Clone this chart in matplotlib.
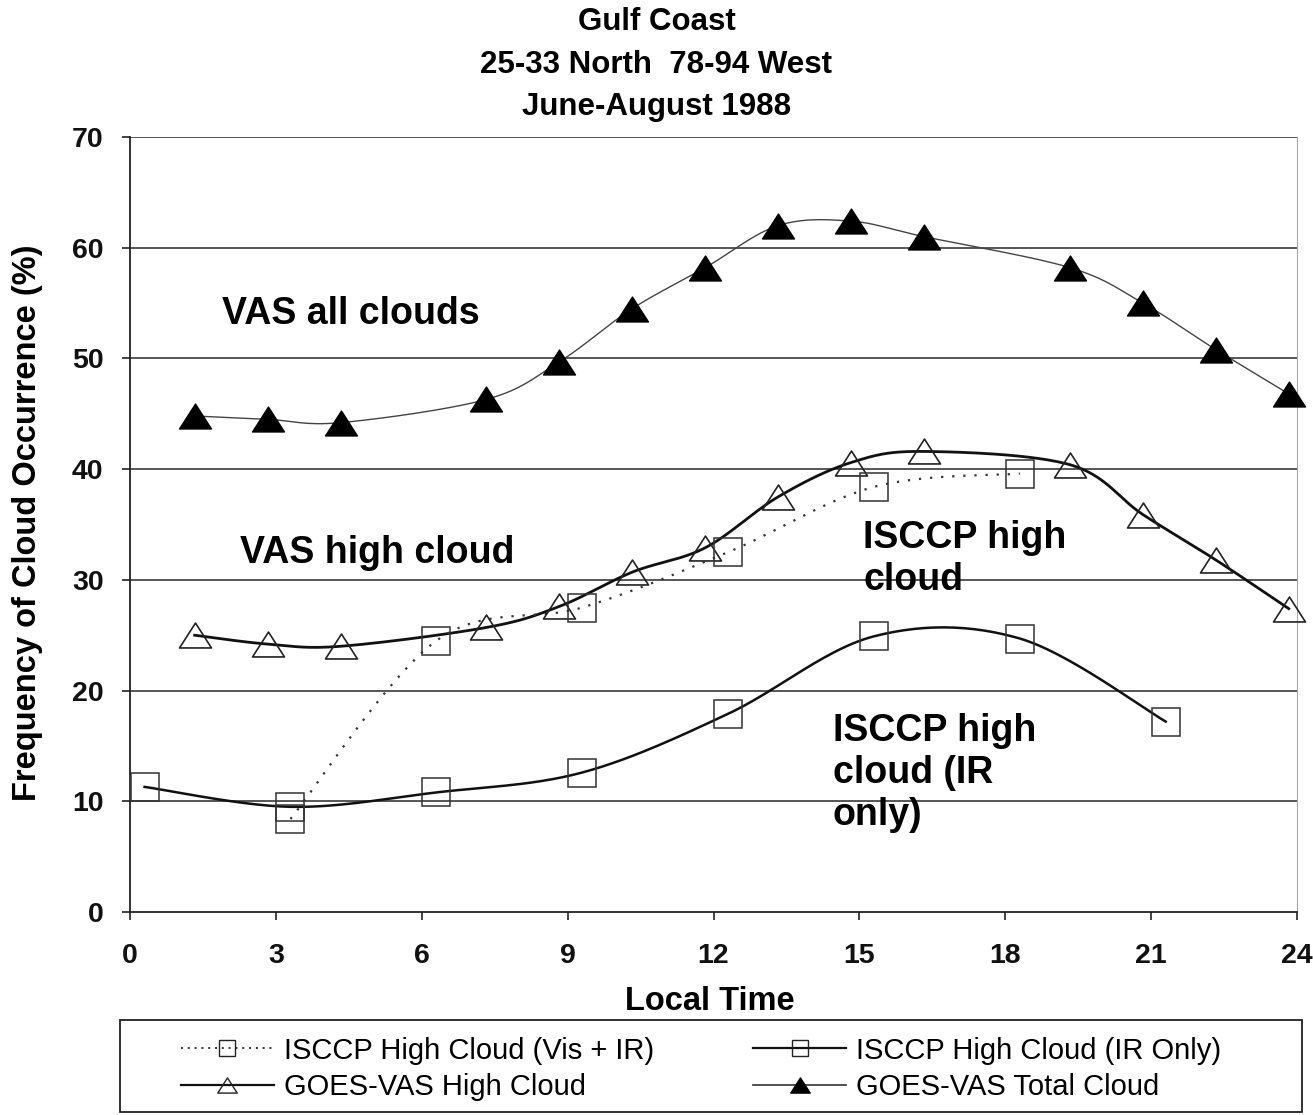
import numpy as np
import matplotlib
matplotlib.use("Agg")
import matplotlib.pyplot as plt
from matplotlib.lines import Line2D
from matplotlib.path import Path
from matplotlib.patches import Rectangle

# ---------------- data ----------------
vas_hours = [1.33, 2.83, 4.33, 7.33, 8.83, 10.33, 11.83, 13.33, 14.83, 16.33, 19.33, 20.83, 22.33, 23.83]
vas_total = [44.8, 44.5, 44.2, 46.3, 49.7, 54.5, 58.2, 62.0, 62.4, 61.0, 58.2, 55.0, 50.8, 46.8]
vas_high = [25.0, 24.2, 24.0, 25.7, 27.6, 30.7, 32.9, 37.5, 40.6, 41.6, 40.4, 35.9, 31.8, 27.4]

isccp_ir_hours = [0.3, 3.3, 6.3, 9.3, 12.3, 15.3, 18.3, 21.3]
isccp_ir = [11.3, 9.5, 10.8, 12.6, 17.9, 24.9, 24.7, 17.2]

isccp_vis_hours = [3.3, 6.3, 9.3, 12.3, 15.3, 18.3]
isccp_vis = [8.4, 24.5, 27.5, 32.5, 38.4, 39.6]

title_lines = ["Gulf Coast", "25-33 North  78-94 West", "June-August 1988"]
x_ticks = [0, 3, 6, 9, 12, 15, 18, 21, 24]
y_ticks = [0, 10, 20, 30, 40, 50, 60, 70]
legend_labels = ["ISCCP High Cloud (Vis + IR)", "ISCCP High Cloud (IR Only)",
                 "GOES-VAS High Cloud", "GOES-VAS Total Cloud"]

SANS = "Liberation Sans"


def smooth(x, y, n=30):
    """Excel-like smoothed line (Catmull-Rom Bezier) through the data points."""
    x = np.asarray(x, float)
    y = np.asarray(y, float)
    P = np.column_stack([x, y])
    Pe = np.vstack([P[0], P, P[-1]])
    out = []
    t = np.linspace(0, 1, n)[:, None]
    for i in range(len(P) - 1):
        p0 = Pe[i + 1]
        p3 = Pe[i + 2]
        c1 = p0 + (Pe[i + 2] - Pe[i]) / 6.0
        c2 = p3 - (Pe[i + 3] - Pe[i + 1]) / 6.0
        seg = ((1 - t) ** 3) * p0 + 3 * ((1 - t) ** 2) * t * c1 + 3 * (1 - t) * t ** 2 * c2 + t ** 3 * p3
        out.append(seg if i == 0 else seg[1:])
    s = np.vstack(out)
    return s[:, 0], s[:, 1]


W, H = 1313, 1115
fig = plt.figure(figsize=(W / 100, H / 100), dpi=100)
ax = fig.add_axes([130 / W, 1 - 912 / H, (1297 - 130) / W, (912 - 137) / H])

tri = Path([(-1, -0.78), (1, -0.78), (0, 0.78), (-1, -0.78)], closed=True)

# gridlines
for v in y_ticks[1:]:
    ax.axhline(v, color="#3a3a3a", lw=1.2, zorder=1)

# total cloud
sx, sy = smooth(vas_hours, vas_total)
ax.plot(sx, sy, color="#444444", lw=1.0, zorder=3)
ax.plot(vas_hours, vas_total, ls="none", marker=tri, ms=23, mfc="black", mec="black",
        zorder=4, clip_on=False)

# VAS high cloud
sx, sy = smooth(vas_hours, vas_high)
ax.plot(sx, sy, color="#111111", lw=2.0, zorder=3)
ax.plot(vas_hours, vas_high, ls="none", marker=tri, ms=23, mfc="none", mec="#222222", mew=1.2,
        zorder=4, clip_on=False)

# ISCCP vis+IR dotted
sx, sy = smooth(isccp_vis_hours, isccp_vis)
ax.plot(sx, sy, color="#333333", lw=1.6, ls=(0, (1, 4)), zorder=3)
ax.plot(isccp_vis_hours, isccp_vis, ls="none", marker="s", ms=20, mfc="none", mec="#333333",
        mew=1.1, zorder=4)

# ISCCP IR only
sx, sy = smooth(isccp_ir_hours, isccp_ir)
ax.plot(sx, sy, color="#111111", lw=1.8, zorder=3)
ax.plot(isccp_ir_hours, isccp_ir, ls="none", marker="s", ms=20, mfc="none", mec="#333333",
        mew=1.1, zorder=4, clip_on=False)

ax.set_xlim(0, 24)
ax.set_ylim(0, 70)
ax.set_xticks(x_ticks)
ax.set_yticks(y_ticks)
ax.tick_params(axis="both", direction="out", length=6, width=1.2, color="#222222",
               labelsize=20.5)
ax.tick_params(axis="y", pad=13)
ax.tick_params(axis="x", pad=16)
for lab in ax.get_xticklabels() + ax.get_yticklabels():
    lab.set_fontfamily(SANS)
    lab.set_fontweight("bold")
    lab.set_color("#111111")

ax.spines["top"].set_visible(False)
ax.spines["right"].set_color("#aaaaaa")
ax.spines["right"].set_linewidth(0.8)
for s in ("left", "bottom"):
    ax.spines[s].set_linewidth(1.3)
    ax.spines[s].set_color("#222222")

# axis labels
fig.text(710 / W, 1 - 1001 / H, "Local Time", ha="center", va="center", fontsize=23.5,
         fontweight="bold", family=SANS)
fig.text(28 / W, 1 - 523 / H, "Frequency of Cloud Occurrence (%)", ha="center", va="center",
         rotation=90, fontsize=23.5, fontweight="bold", family=SANS)

# title
for line, ypx in zip(title_lines, [22, 65, 107]):
    fig.text(0.5, 1 - ypx / H, line, ha="center", va="center", fontsize=22.5,
             fontweight="bold", family=SANS)

# annotations
ann = dict(fontsize=27, fontweight="bold", family=SANS, zorder=6, linespacing=1.2)
ax.text(1.9, 54.0, "VAS all clouds", ha="left", va="center", **ann)
ax.text(2.27, 32.4, "VAS high cloud", ha="left", va="center", **ann)
ax.text(15.08, 31.9, "ISCCP high\ncloud", ha="left", va="center", **ann)
ax.text(14.45, 12.55, "ISCCP high\ncloud (IR\nonly)", ha="left", va="center", **ann)

# legend (column-major order: row 1 = ISCCP entries, row 2 = GOES entries)
h_vis = Line2D([], [], color="#333333", lw=1.4, ls=(0, (1, 2.5)), marker="s", ms=11,
               mfc="none", mec="#222222")
h_ir = Line2D([], [], color="#111111", lw=1.6, marker="s", ms=11, mfc="none", mec="#222222")
h_vh = Line2D([], [], color="#111111", lw=1.6, marker=tri, ms=14, mfc="none", mec="#222222")
h_vt = Line2D([], [], color="#333333", lw=1.2, marker=tri, ms=14, mfc="black", mec="black")
leg = fig.legend([h_vis, h_vh, h_ir, h_vt],
                 [legend_labels[0], legend_labels[2], legend_labels[1], legend_labels[3]],
                 ncol=2, loc="center", bbox_to_anchor=(701 / W, 1 - 1069 / H),
                 frameon=False, handlelength=3.2, handletextpad=0.33, borderaxespad=0,
                 labelspacing=0.3, columnspacing=3.4, prop={"family": SANS, "size": 21})
fig.patches.append(Rectangle((120 / W, 1 - 1112 / H), (1302 - 120) / W, (1112 - 1020) / H,
                             transform=fig.transFigure, fill=False, edgecolor="#222222",
                             lw=1.3))

fig.savefig("out.png", dpi=100, facecolor="white")
